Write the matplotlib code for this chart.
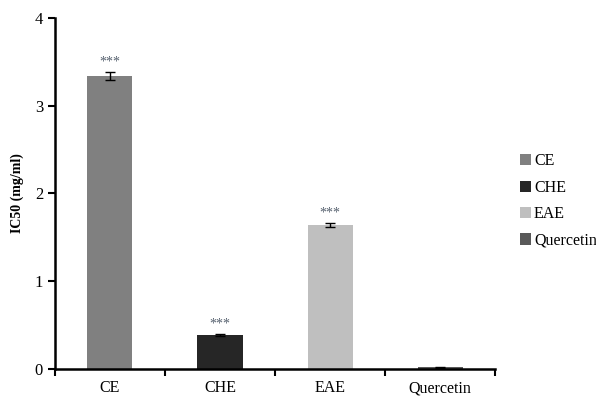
import numpy as np
import matplotlib.pyplot as plt
from matplotlib.ticker import FixedLocator

categories = ["CE", "CHE", "EAE", "Quercetin"]
values = [3.34, 0.385, 1.64, 0.02]
errors = [0.045, 0.008, 0.025, 0.004]
stars = ["***", "***", "***", ""]
colors = ["#808080", "#262626", "#bfbfbf", "#595959"]

plt.rcParams['font.family'] = ['Liberation Serif', 'DejaVu Serif']

fig = plt.figure(figsize=(5.96, 3.98), dpi=100)
ax = fig.add_axes([0.092, 0.073, 0.739, 0.882])

x = np.arange(len(categories))
bars = ax.bar(x, values, width=0.41, color=colors, label=categories,
              yerr=errors, capsize=3.5, error_kw=dict(elinewidth=1, capthick=1, ecolor="black"))

for xi, v, e, s in zip(x, values, errors, stars):
    if s:
        ax.text(xi, v + e + 0.04, s, ha="center", va="bottom", fontsize=10, color="#55606e")

ax.set_xlim(-0.5, len(categories) - 0.5)
ax.set_ylim(0, 4)
ax.set_yticks([0, 1, 2, 3, 4])
ax.set_xticks(x)
ax.set_xticklabels(categories, fontsize=11.5)
ax.xaxis.set_minor_locator(FixedLocator(np.arange(-0.5, len(categories), 1.0)))
ax.tick_params(axis="x", which="major", length=0, pad=8)
ax.tick_params(axis="x", which="minor", length=5, width=1.5, direction="out")
ax.tick_params(axis="y", length=5, width=1.5, labelsize=12)
ax.spines["top"].set_visible(False)
ax.spines["right"].set_visible(False)
ax.spines["left"].set_linewidth(1.8)
ax.spines["bottom"].set_linewidth(1.8)
ax.set_ylabel("IC50 (mg/ml)", fontsize=10, fontweight="bold", labelpad=8)

fig.legend(handles=bars.patches, labels=categories, loc="center left",
           bbox_to_anchor=(0.872, 0.495), frameon=False, fontsize=11.5,
           handlelength=0.7, handleheight=0.7, handletextpad=0.2, labelspacing=0.65,
           borderaxespad=0, borderpad=0)

fig.savefig("out.png", dpi=100)
